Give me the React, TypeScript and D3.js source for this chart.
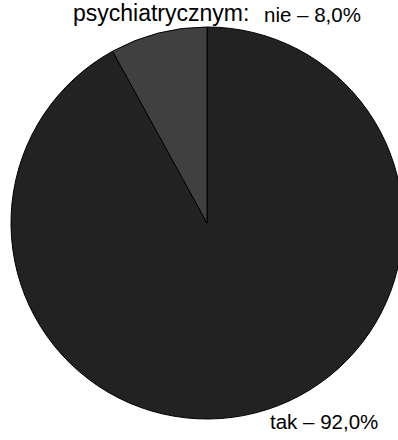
import React from "react";
import * as d3 from "d3";

const categories = ["tak", "nie"];
const values = [92.0, 8.0];
const valueLabels = ["tak – 92,0%", "nie – 8,0%"];
const titleText = "psychiatrycznym:";
const colors = ["#222222", "#404040"];

export default function App() {
  const width = 398;
  const height = 440;
  const cx = 207;
  const cy = 223;
  const r = 196;

  const pie = d3.pie<number>().sort(null).value((d) => d);
  const arcs = pie(values);
  const arcGen = d3.arc<d3.PieArcDatum<number>>().innerRadius(0).outerRadius(r);

  return (
    <div style={{ position: "absolute", left: 0, top: 0 }}>
      <svg width={width} height={height} style={{ display: "block", background: "#fff" }}>
        <g transform={`translate(${cx},${cy})`}>
          {arcs.map((a, i) => (
            <path
              key={categories[i]}
              d={arcGen(a) || ""}
              fill={colors[i]}
              stroke="#000"
              strokeWidth={1}
              strokeLinejoin="round"
            />
          ))}
        </g>
        <text
          x={73}
          y={21}
          fontFamily="'Liberation Sans', Arial, sans-serif"
          fontSize={23}
          fill="#000"
        >
          {titleText}
        </text>
        <text
          x={264}
          y={22}
          fontFamily="'Liberation Sans', Arial, sans-serif"
          fontSize={20.5}
          fill="#000"
        >
          {valueLabels[1]}
        </text>
        <text
          x={270}
          y={429}
          fontFamily="'Liberation Sans', Arial, sans-serif"
          fontSize={20.5}
          fill="#000"
        >
          {valueLabels[0]}
        </text>
      </svg>
    </div>
  );
}
